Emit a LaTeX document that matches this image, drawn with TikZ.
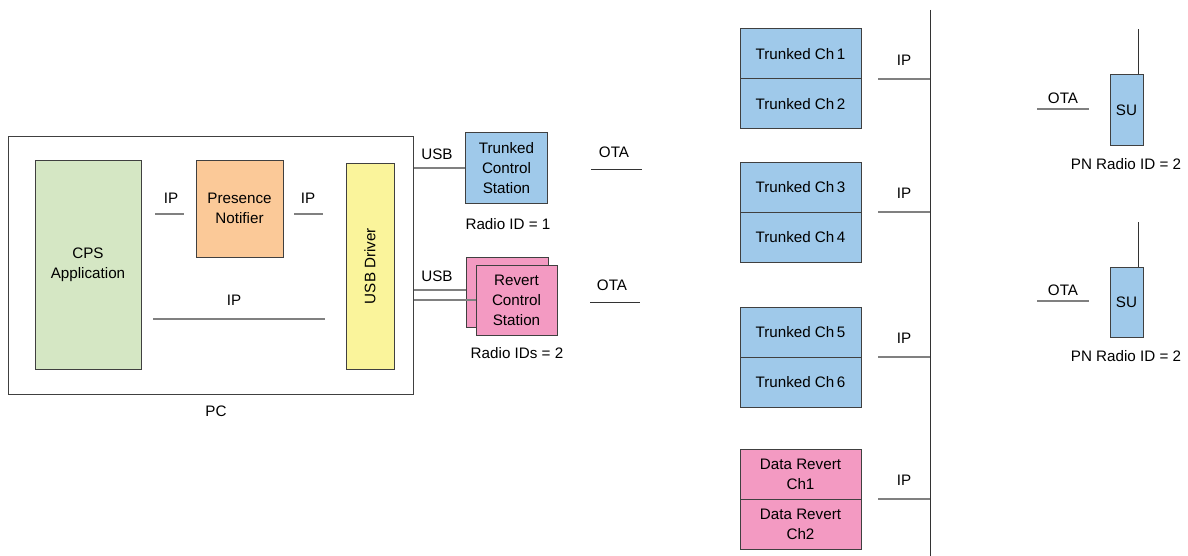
\documentclass[tikz,border=0pt]{standalone}
\usepackage{fontspec}
\setmainfont{Liberation Sans}
\usetikzlibrary{positioning}
\definecolor{cpsgreen}{HTML}{D5E7C4}
\definecolor{notiforange}{HTML}{FBC998}
\definecolor{drvyellow}{HTML}{FAF49B}
\definecolor{chblue}{HTML}{9FC9EA}
\definecolor{revpink}{HTML}{F39AC2}
\begin{document}
\begin{tikzpicture}[x=0.5pt,y=-0.5pt,
  font=\fontsize{7.6}{10}\selectfont,
  box/.style={draw=black!75,line width=0.5pt,inner sep=0pt,align=center},
  wire/.style={draw=black!50,line width=0.6pt},
  dwire/.style={draw=black!80,line width=0.5pt}]
\useasboundingbox (0,0) rectangle (1188,556);

% PC side
\node[box,minimum width=202.5pt,minimum height=128.5pt] (pc) at (210.5,265.5) {};
\node (pclbl) at (216,411) {PC};
\node[box,fill=cpsgreen,minimum width=53pt,minimum height=104.5pt] (cps) at (88,264.5) {CPS\\Application};
\node[box,fill=notiforange,minimum width=43.5pt,minimum height=48.5pt] (pn) at (239.5,208.5) {Presence\\Notifier};
\node[box,fill=drvyellow,rotate=90,minimum width=103pt,minimum height=24pt] (usb) at (370,266) {USB Driver};
\node (ipa) at (171,198) {IP};
\node (ipb) at (308,198) {IP};
\node (ipc) at (234,300) {IP};
\coordinate (ipa1) at (155,214); \coordinate (ipa2) at (184,214);
\coordinate (ipb1) at (294,214); \coordinate (ipb2) at (323,214);
\coordinate (ipc1) at (153,319); \coordinate (ipc2) at (325,319);
\draw[wire] (ipa1) -- (ipa2);
\draw[wire] (ipb1) -- (ipb2);
\draw[wire] (ipc1) -- (ipc2);

% control stations
\node[box,fill=chblue,minimum width=41pt,minimum height=35pt] (tcs) at (506.5,168) {Trunked\\Control\\Station};
\node (tcsid) at (508,224) {Radio ID = 1};
\node (usba) at (437,154) {USB};
\draw[wire] (pc.east |- tcs) -- (tcs.west);
\node[box,fill=revpink,minimum width=41pt,minimum height=35pt] (rcsb) at (507,292) {};
\node[box,fill=revpink,minimum width=40.5pt,minimum height=35pt] (rcs) at (516.5,300) {Revert\\Control\\Station};
\node (rcsid) at (517,353) {Radio IDs = 2};
\node (usbb) at (437,276) {USB};
\draw[wire] (pc.east |- 0,290) -- (rcsb.west |- 0,290);
\draw[wire] (pc.east |- 0,300) -- (rcs.west |- 0,300);
\node (otaa) at (614,152) {OTA};
\node (otab) at (612,285) {OTA};
\coordinate (otaa1) at (591,169); \coordinate (otaa2) at (642,169);
\coordinate (otab1) at (590,302); \coordinate (otab2) at (640,302);
\draw[dwire] (otaa1) -- (otaa2);
\draw[dwire] (otab1) -- (otab2);

% channels and bus
\coordinate (bustop) at (930,10);
\coordinate (busbot) at (930,556);
\draw[dwire] (bustop) -- (busbot);
\foreach \top/\col/\lbla/\lblb [count=\i] in {
  29/chblue/{Trunked Ch\,1}/{Trunked Ch\,2},
  162/chblue/{Trunked Ch\,3}/{Trunked Ch\,4},
  307/chblue/{Trunked Ch\,5}/{Trunked Ch\,6},
  449/revpink/{Data Revert\\Ch1}/{Data Revert\\Ch2}}{
  \node[box,fill=\col,minimum width=60.5pt,minimum height=25pt] (cha\i) at (800.5,{\top+25}) {\lbla};
  \node[box,fill=\col,minimum width=60.5pt,minimum height=25pt] (chb\i) at (800.5,{\top+75}) {\lblb};
  \node (chip\i) at (904,{\top+31}) {IP};
  \coordinate (chl\i) at (878,{\top+50});
  \draw[wire] (chl\i) -- (chl\i -| bustop);
}

% subscriber units
\foreach \yc [count=\i] in {110,302}{
  \node[box,fill=chblue,minimum width=16.5pt,minimum height=35pt] (su\i) at (1126.5,\yc) {SU};
  \coordinate (ant\i) at ([xshift=-2.5pt]su\i.north east);
  \draw[dwire] (ant\i) -- ++(0,-45);
  \node (suota\i) at (1063,{\yc-12}) {OTA};
  \coordinate (sul\i) at (1037,{\yc-1});
  \draw[wire] (sul\i) -- ++(52,0);
  \node (suid\i) at (1126,{\yc+54}) {PN Radio ID = 2};
}
\end{tikzpicture}
\end{document}
